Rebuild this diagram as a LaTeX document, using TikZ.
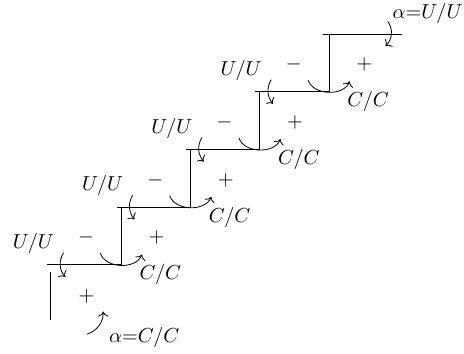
\documentclass[tikz,border=0pt]{standalone}
\usepackage{amsmath}
\usetikzlibrary{arrows.meta,calc}

\begin{document}
\begin{tikzpicture}[x=1cm,y=1cm]
	\useasboundingbox (-2.10,-1.54) rectangle (5.94,4.59);
	
	% stairs
	\foreach \i [evaluate=\i as \x using 1.2*\i] in {0,1,2,3}{
		\draw (\x-1.28,\i)--(\x,\i)--(\x,\i+1);
	}
	\draw (3.50,4)--(4.87,4);
	\draw (-1.23,-0.12)--(-1.23,-0.95);
	
	% labels and turning arrows on each step
	\foreach \i [evaluate=\i as \x using 1.2*\i] in {0,1,2,3}{
		\node (uu\i) at (\x-1.52,\i+0.37) {$U/U$};
		\node (minus\i) at (\x-0.61,\i+0.47) {$-$};
		\node (plus\i) at (\x+0.61,\i+0.47) {$+$};
		\node (cc\i) at (\x+0.68,\i-0.17) {$C/C$};
		\draw[->] (\x-0.36,\i+0.20) to[bend right=70] (\x+0.36,\i+0.18);
		\draw[->] (\x-1.00,\i+0.21) to[bend right=35] (\x-0.97,\i-0.21);
	}
	
	% bottom end
	\node (plusb) at (-0.60,-0.55) {$+$};
	\draw[->] (-0.59,-1.20) to[bend right=35] (-0.31,-0.81);
	\node (alphab) at (0.40,-1.26) {$\alpha{=}C/C$};
	
	% top end
	\node (alphat) at (5.31,4.35) {$\alpha{=}U/U$};
	\draw[->] (4.62,4.22) to[bend left=40] (4.58,3.79);
\end{tikzpicture}
\end{document}
